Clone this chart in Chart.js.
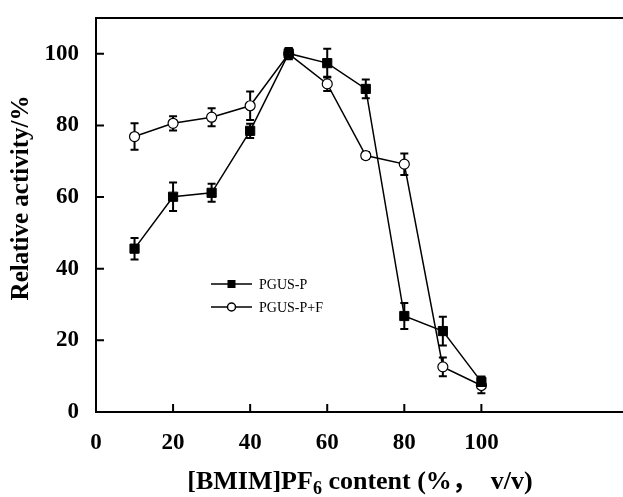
<!DOCTYPE html>
<html>
<head>
<meta charset="utf-8">
<script src="https://cdn.jsdelivr.net/npm/chart.js@4/dist/chart.umd.min.js"></script>
<style>
  html, body { margin: 0; padding: 0; background: #fff; overflow: hidden; }
  #wrap { width: 623px; height: 497px; position: relative; }
</style>
</head>
<body>
<div id="wrap"><canvas id="chart" width="623" height="497"></canvas></div>
<script>
// [BMIM]PF6 content (%, v/v)
const contents = [10, 20, 30, 40, 50, 60, 70, 80, 90, 100];

// PGUS-P (filled squares)
const pgusP = [45.6, 60.1, 61.2, 78.5, 100.1, 97.4, 90.2, 26.8, 22.6, 8.4];
const pgusPErr = [3.0, 4.0, 2.5, 2.0, 1.5, 4.0, 2.6, 3.6, 4.0, 1.5];

// PGUS-P+F (open circles)
const pgusPF = [76.9, 80.6, 82.3, 85.5, 100.0, 91.6, 71.6, 69.2, 12.6, 7.4];
const pgusPFErr = [3.7, 2.0, 2.5, 4.0, 1.5, 2.0, 1.0, 3.0, 2.6, 2.2];

const xTicks = [0, 20, 40, 60, 80, 100];
const yTicks = [0, 20, 40, 60, 80, 100];
const seriesNames = ["PGUS-P", "PGUS-P+F"];

const serif = "'Liberation Serif', 'Noto Sans CJK SC', serif";

function toPoints(ys) {
  return contents.map((x, i) => ({ x: x, y: ys[i] }));
}

// error bars, drawn under the markers
const errorBars = {
  id: "errorBars",
  beforeDatasetsDraw(chart) {
    const ctx = chart.ctx;
    const xs = chart.scales.x, ys = chart.scales.y;
    const sets = [[pgusP, pgusPErr], [pgusPF, pgusPFErr]];
    ctx.save();
    ctx.strokeStyle = "#000";
    ctx.lineWidth = 2;
    sets.forEach(([vals, errs]) => {
      vals.forEach((v, i) => {
        const px = xs.getPixelForValue(contents[i]);
        const top = ys.getPixelForValue(v + errs[i]);
        const bot = ys.getPixelForValue(v - errs[i]);
        ctx.beginPath();
        ctx.moveTo(px, top); ctx.lineTo(px, bot);
        ctx.moveTo(px - 4, top); ctx.lineTo(px + 4, top);
        ctx.moveTo(px - 4, bot); ctx.lineTo(px + 4, bot);
        ctx.stroke();
      });
    });
    ctx.restore();
  }
};

// frame top line, inward ticks, legend, axis titles
const decor = {
  id: "decor",
  afterDraw(chart) {
    const ctx = chart.ctx;
    const a = chart.chartArea;
    const xs = chart.scales.x, ys = chart.scales.y;
    ctx.save();
    ctx.strokeStyle = "#000";
    ctx.lineWidth = 2;
    ctx.beginPath();
    ctx.moveTo(a.left - 1, a.top); ctx.lineTo(chart.width, a.top);
    ctx.moveTo(a.right, a.bottom); ctx.lineTo(chart.width, a.bottom);
    ctx.stroke();

    ctx.beginPath();
    yTicks.forEach(t => {
      const py = ys.getPixelForValue(t);
      ctx.moveTo(a.left, py); ctx.lineTo(a.left + 8, py);
    });
    xTicks.forEach(t => {
      const px = xs.getPixelForValue(t);
      ctx.moveTo(px, a.bottom); ctx.lineTo(px, a.bottom - 8);
    });
    ctx.stroke();

    // legend
    const lx0 = 211, lx1 = 252, rows = [284, 307];
    ctx.lineWidth = 1.5;
    ctx.font = "14px " + serif;
    ctx.fillStyle = "#000";
    ctx.textBaseline = "middle";
    rows.forEach((ry, k) => {
      ctx.beginPath();
      ctx.moveTo(lx0, ry); ctx.lineTo(lx1, ry);
      ctx.stroke();
      const mx = (lx0 + lx1) / 2;
      if (k === 0) {
        ctx.fillRect(mx - 4, ry - 4, 8, 8);
      } else {
        ctx.beginPath();
        ctx.arc(mx, ry, 4, 0, Math.PI * 2);
        ctx.fillStyle = "#fff"; ctx.fill();
        ctx.stroke();
        ctx.fillStyle = "#000";
      }
      ctx.fillText(seriesNames[k], 259, ry + 1);
    });

    // y title
    ctx.save();
    ctx.translate(22, 198);
    ctx.rotate(-Math.PI / 2);
    ctx.font = "bold 25px " + serif;
    ctx.textAlign = "center";
    ctx.textBaseline = "middle";
    ctx.fillText("Relative activity/%", 0, 0);
    ctx.restore();

    // x title with subscript 6
    const main = "bold 26px " + serif, sub = "bold 18px " + serif;
    const p1 = "[BMIM]PF", p2 = "6", p3 = " content (%\uFF0C  v/v)";
    ctx.font = main; const w1 = ctx.measureText(p1).width, w3 = ctx.measureText(p3).width;
    ctx.font = sub; const w2 = ctx.measureText(p2).width;
    let x = 360 - (w1 + w2 + w3) / 2;
    const base = 489;
    ctx.textAlign = "left";
    ctx.textBaseline = "alphabetic";
    ctx.font = main; ctx.fillText(p1, x, base); x += w1;
    ctx.font = sub; ctx.fillText(p2, x, base + 5); x += w2;
    ctx.font = main; ctx.fillText(p3, x, base);
    ctx.restore();
  }
};

new Chart(document.getElementById("chart"), {
  type: "line",
  data: {
    datasets: [
      {
        label: seriesNames[0],
        data: toPoints(pgusP),
        borderColor: "#000",
        borderWidth: 1.5,
        pointStyle: "rect",
        pointRadius: 6.5,
        pointBackgroundColor: "#000",
        pointBorderColor: "#000",
        pointBorderWidth: 1,
        tension: 0
      },
      {
        label: seriesNames[1],
        data: toPoints(pgusPF),
        borderColor: "#000",
        borderWidth: 1.5,
        pointStyle: "circle",
        pointRadius: 5,
        pointBackgroundColor: "#fff",
        pointBorderColor: "#000",
        pointBorderWidth: 1.2,
        tension: 0
      }
    ]
  },
  options: {
    responsive: false,
    animation: false,
    layout: { padding: { top: 18, right: 0, left: 0, bottom: 0 } },
    plugins: { legend: { display: false }, tooltip: { enabled: false } },
    scales: {
      x: {
        type: "linear",
        min: 0,
        max: 134.8,
        afterBuildTicks: s => { s.ticks = xTicks.map(v => ({ value: v })); },
        afterFit: s => { s.height = 85; },
        grid: { display: false, drawTicks: false },
        border: { display: true, color: "#000", width: 2 },
        ticks: { color: "#000", padding: 17, maxRotation: 0, font: { family: serif, size: 23, weight: "bold" } }
      },
      y: {
        min: 0,
        max: 110,
        afterBuildTicks: s => { s.ticks = yTicks.map(v => ({ value: v })); },
        afterFit: s => { s.width = 96; s.paddingTop = 0; s.paddingBottom = 0; },
        grid: { display: false, drawTicks: false },
        border: { display: true, color: "#000", width: 2 },
        ticks: { color: "#000", padding: 17, font: { family: serif, size: 23, weight: "bold" } }
      }
    }
  },
  plugins: [errorBars, decor]
});
</script>
</body>
</html>
